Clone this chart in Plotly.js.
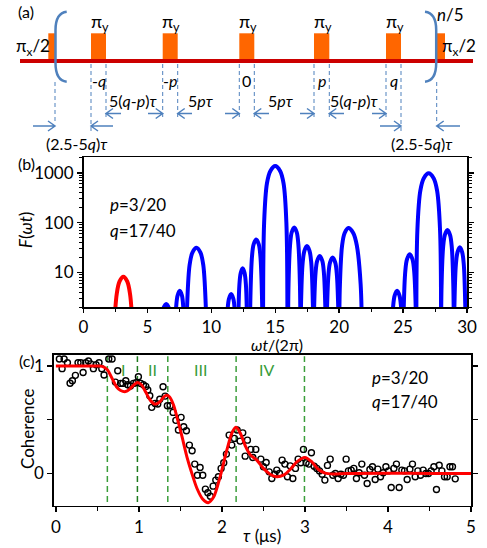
<!DOCTYPE html>
<html>
<head>
<meta charset="utf-8">
<script src="https://cdn.plot.ly/plotly-3.0.1.min.js"></script>
<style>html,body{margin:0;padding:0;background:#fff}#chart{width:487px;height:548px}</style>
</head>
<body>
<div id="chart"></div>
<script>
// ---------- Panel (b): filter function F(wt) (lobes separated by null) ----------
const bRedX = [2.36, 2.60, 2.82, 3.12, 3.42, 3.64, 3.88];
const bRedY = [0.5, 3.7, 6.6, 8.2, 6.6, 3.7, 0.5];
const bBlueX = [
  5.87, 6.06, 6.23, 6.47, 6.71, 6.88, 7.07, null,
  7.10, 7.24, 7.36, 7.53, 7.70, 7.81, 7.95, null,
  8.05, 8.11, 8.30, 8.52, 8.84, 9.15, 9.37, 9.56, 9.62, null,
  11.12, 11.26, 11.38, 11.55, 11.72, 11.84, 11.98, null,
  12.07, 12.10, 12.19, 12.30, 12.45, 12.60, 12.71, 12.80, 12.83, null,
  13.02, 13.06, 13.18, 13.31, 13.51, 13.71, 13.84, 13.96, 14.00, null,
  14.05, 14.13, 14.35, 14.62, 15.00, 15.38, 15.65, 15.87, 15.95, null,
  16.00, 16.04, 16.16, 16.29, 16.485, 16.68, 16.81, 16.93, 16.97, null,
  16.98, 17.02, 17.14, 17.28, 17.48, 17.68, 17.82, 17.94, 17.98, null,
  17.99, 18.15, 18.28, 18.48, 18.68, 18.81, 18.97, null,
  19.00, 19.16, 19.29, 19.49, 19.69, 19.82, 19.98, null,
  20.00, 20.06, 20.23, 20.43, 20.72, 21.10, 21.38, 21.68, 21.78, null,
  24.06, 24.21, 24.34, 24.53, 24.72, 24.85, 25.00, null,
  25.00, 25.17, 25.31, 25.52, 25.73, 25.87, 26.04, null,
  26.04, 26.12, 26.35, 26.62, 27.00, 27.39, 27.66, 27.89, 27.97, null,
  27.97, 28.01, 28.13, 28.27, 28.47, 28.67, 28.81, 28.93, 28.97, null,
  28.98, 29.02, 29.13, 29.26, 29.44, 29.62, 29.75, 29.86, 29.90
];
const bBlueY = [
  0.5, 1.05, 1.87, 2.34, 1.87, 1.05, 0.5, null,
  0.5, 1.94, 3.44, 4.3, 3.44, 1.94, 0.5, null,
  0.5, 2.3, 14.1, 25, 31.3, 25, 14.1, 2.3, 0.5, null,
  0.5, 1.67, 2.96, 3.7, 2.96, 1.67, 0.5, null,
  0.5, 0.9, 5.4, 9.7, 12.1, 9.7, 5.4, 0.9, 0.5, null,
  0.5, 3.4, 20.7, 36.8, 46, 36.8, 20.7, 3.4, 0.5, null,
  0.5, 100, 612, 1088, 1360, 1088, 612, 100, 0.5, null,
  0.5, 5.9, 36, 64, 80, 64, 36, 5.9, 0.5, null,
  0.5, 2.5, 15.3, 27.2, 34, 27.2, 15.3, 2.5, 0.5, null,
  0.5, 9.6, 17.1, 21.4, 17.1, 9.6, 0.5, null,
  0.5, 9, 16, 20, 16, 9, 0.5, null,
  0.5, 5.8, 35, 62, 78, 62, 35, 5.8, 0.5, null,
  0.5, 1.94, 3.44, 4.3, 3.44, 1.94, 0.5, null,
  0.5, 10.4, 18.5, 23.1, 18.5, 10.4, 0.5, null,
  0.5, 72, 438, 778, 973, 778, 438, 72, 0.5, null,
  0.5, 5.3, 32, 57, 71, 57, 32, 5.3, 0.5, null,
  0.5, 2.4, 14.4, 25.6, 32, 25.6, 14.4, 2.4, 0.5
];
const bTickVals = [10, 100, 1000];
const bTickText = ['10', '100', '1000'];

// ---------- Panel (c): coherence data and fit ----------
const cTau = [0.042,0.075,0.099,0.139,0.171,0.199,0.235,0.267,0.300,0.328,
  0.360,0.392,0.420,0.452,0.484,0.520,0.553,0.580,0.637,0.677,
  0.717,0.745,0.780,0.806,0.842,0.866,0.898,0.934,0.966,0.994,
  1.023,1.054,1.083,1.107,1.131,1.155,1.195,1.227,1.252,1.291,
  1.316,1.343,1.376,1.412,1.445,1.476,1.508,1.540,1.572,1.608,
  1.641,1.673,1.705,1.737,1.769,1.801,1.830,1.861,1.894,1.926,
  1.958,1.990,2.022,2.054,2.087,2.119,2.150,2.183,2.219,2.251,
  2.280,2.307,2.348,2.372,2.408,2.469,2.500,2.533,2.569,2.601,
  2.637,2.661,2.693,2.725,2.758,2.789,2.822,2.854,2.886,2.918,
  2.950,2.982,3.014,3.047,3.078,3.111,3.143,3.175,3.207,3.240,
  3.271,3.304,3.336,3.367,3.400,3.433,3.464,3.496,3.524,3.557,
  3.589,3.620,3.653,3.685,3.717,3.749,3.782,3.813,3.846,3.878,
  3.910,3.942,3.975,4.006,4.039,4.071,4.102,4.135,4.167,4.199,
  4.231,4.264,4.295,4.328,4.360,4.392,4.424,4.457,4.488,4.520,
  4.553,4.584,4.617,4.649,4.681,4.713,4.746,4.777,4.810];
const cCoh = [1.065,0.975,1.065,1.03,0.84,0.863,0.913,1.03,1.03,0.94,
  1.03,1.047,1.02,0.975,1.012,1.03,0.975,0.916,1.065,1.065,
  0.85,0.956,0.838,0.838,0.863,0.826,0.814,0.838,0.844,0.9,
  0.838,0.826,0.81,0.776,0.723,0.615,0.652,0.646,0.69,0.807,
  0.72,0.63,0.63,0.568,0.494,0.404,0.522,0.435,0.397,0.264,
  0.211,0.087,-0.016,0.056,-0.016,-0.146,-0.18,-0.212,-0.118,-0.062,
  -0.031,0.047,0.099,0.18,0.357,0.264,0.326,0.404,0.301,0.378,
  0.161,0.31,0.224,0.149,0.224,0.133,0.062,0.102,0.015,-0.047,
  -0.007,0.031,0,0.124,0.087,-0.031,0.071,-0.047,0.047,0.133,
  0.099,0.224,0.099,0.087,0.192,0.068,0.047,0.024,-0.007,-0.062,
  0.075,0.133,-0.016,0,-0.047,-0.007,-0.016,0.133,0.024,0.031,
  0.047,-0.047,0.006,0.087,-0.016,-0.093,0.037,0.062,-0.056,0.04,
  -0.031,0.006,0.062,0.024,-0.13,0.047,0.087,-0.13,0.031,0.024,
  -0.056,0.04,0.087,-0.031,0.024,-0.016,0.031,0,0,0.024,
  0.062,-0.149,0.077,0.024,-0.031,-0.031,0.062,0.062,-0.05];
const fitTau = [0, 0.5, 0.56, 0.62, 0.68, 0.73, 0.78, 0.84, 0.89, 0.94, 0.982, 1.03, 1.08, 1.135, 1.19, 1.25, 1.30, 1.335, 1.37, 1.416, 1.46, 1.52, 1.58, 1.63, 1.70, 1.77, 1.835, 1.90, 1.978, 2.059, 2.127, 2.171, 2.219, 2.28, 2.34, 2.42, 2.50, 2.58, 2.661, 2.741, 2.822, 2.902, 3.0, 3.083, 3.163, 3.243, 3.34, 3.5, 4.0, 4.5, 5.0];
const fitCoh = [1.0, 1.0, 0.997, 0.965, 0.88, 0.807, 0.772, 0.762, 0.785, 0.825, 0.847, 0.825, 0.76, 0.683, 0.645, 0.665, 0.712, 0.727, 0.712, 0.64, 0.52, 0.34, 0.15, 0.02, -0.14, -0.24, -0.272, -0.22, -0.031, 0.217, 0.388, 0.429, 0.378, 0.26, 0.175, 0.124, 0.047, -0.007, -0.031, -0.016, 0.037, 0.108, 0.149, 0.108, 0.037, 0.003, -0.005, 0.0, 0.002, 0.0, 0.0];
const regionLines = [0.62, 0.982, 1.348, 2.171, 2.994];
const regionLabels = ['I', 'II', 'III', 'IV'];
const regionLabelTau = [0.81, 1.167, 1.737, 2.54];
const cTickVals = [0, 0.5, 1];
const cTickText = ['0', ' ', '1'];

// ---------- Panel (a): pulse sequence labels ----------
const pulseLabels = ['-<i>q</i>', '-<i>p</i>', '0', '<i>p</i>', '<i>q</i>'];
const gapLabels = ['5(<i>q</i>-<i>p</i>)<i>τ</i>', '5<i>pτ</i>', '5<i>pτ</i>', '5(<i>q</i>-<i>p</i>)<i>τ</i>'];
const edgeLabel = '(2.5-5<i>q</i>)<i>τ</i>';

// ---------- layout helpers (pixel -> paper) ----------
const W = 487, H = 548;
const X = p => p / W;
const Y = p => 1 - p / H;
const FONT = 'Lato, "Noto Sans", "DejaVu Sans", sans-serif';
const BLUE = '#4f81bd';
const GREEN = '#3a9d3a';

const shapes = [];
const annotations = [];
function txt(text, px, py, size, opts) {
  annotations.push(Object.assign({
    text: text, x: X(px), y: Y(py), xref: 'paper', yref: 'paper',
    showarrow: false, xanchor: 'center', yanchor: 'middle',
    font: {family: FONT, size: size, color: '#000'}
  }, opts || {}));
}

// pulses
const pulseEdges = [[91, 106], [162.7, 177.7], [239.3, 254.3], [314, 329.3], [386, 401]];
const halfPulses = [[48.3, 56], [436.7, 445]];
halfPulses.concat(pulseEdges).forEach(e => shapes.push({
  type: 'rect', xref: 'paper', yref: 'paper', x0: X(e[0]), x1: X(e[1]), y0: Y(60), y1: Y(33.3),
  fillcolor: '#ff6600', line: {width: 0}
}));
shapes.push({type: 'line', xref: 'paper', yref: 'paper', x0: X(20), x1: X(473), y0: Y(61), y1: Y(61),
  line: {color: '#cc0000', width: 4}});
// brackets
shapes.push({type: 'path', xref: 'paper', yref: 'paper',
  path: `M ${X(66.7)},${Y(11.7)} Q ${X(55.5)},${Y(13)} ${X(55.5)},${Y(30)} L ${X(55.5)},${Y(63)} Q ${X(55.5)},${Y(80.5)} ${X(66.7)},${Y(81.7)}`,
  line: {color: BLUE, width: 2.5}});
shapes.push({type: 'path', xref: 'paper', yref: 'paper',
  path: `M ${X(425)},${Y(11.7)} Q ${X(436.2)},${Y(13)} ${X(436.2)},${Y(30)} L ${X(436.2)},${Y(63)} Q ${X(436.2)},${Y(80.5)} ${X(425)},${Y(81.7)}`,
  line: {color: BLUE, width: 2.5}});
// dashed guides
const guides = [[55, 82, 124], [91, 64, 131], [106, 64, 118], [162.7, 64, 118], [177.7, 64, 118],
  [239.3, 64, 118], [254.3, 64, 118], [314, 64, 118], [329.3, 64, 118], [386, 64, 118], [401, 64, 131], [436.7, 82, 124]];
guides.forEach(g => shapes.push({type: 'line', xref: 'paper', yref: 'paper', x0: X(g[0]), x1: X(g[0]),
  y0: Y(g[1]), y1: Y(g[2]), line: {color: BLUE, width: 1, dash: '4px,3px'}}));
// arrows
function arrow(tip, tail, py) {
  const d = tail > tip ? 1 : -1;
  shapes.push({type: 'path', xref: 'paper', yref: 'paper',
    path: `M ${X(tail)},${Y(py)} L ${X(tip)},${Y(py)} M ${X(tip + d * 7)},${Y(py - 5)} L ${X(tip)},${Y(py)} L ${X(tip + d * 7)},${Y(py + 5)}`,
    line: {color: BLUE, width: 1.5}});
}
[[106, 121], [162.7, 148], [177.7, 192], [239.3, 225], [254.3, 269], [314, 300], [329.3, 344], [386, 372]]
  .forEach(a => arrow(a[0], a[1], 113.5));
[[55, 33], [91, 113], [401, 380], [436.7, 460]].forEach(a => arrow(a[0], a[1], 126));

// panel (a) text
pulseEdges.forEach(e => txt('π<sub>y</sub>', (e[0] + e[1]) / 2 + 1, 23, 18));
pulseEdges.forEach((e, i) => txt(pulseLabels[i], (e[0] + e[1]) / 2, 80, 16));
txt('π<sub>x</sub>/2', 32.5, 47, 17);
txt('π<sub>x</sub>/2', 459, 47, 17);
txt('<i>n</i>/5', 450, 15, 17);
txt('(a)', 26, 11, 16);
[133, 201, 281, 354].forEach((cx, i) => txt(gapLabels[i], cx, 100, 16));
txt(edgeLabel, 76.7, 143, 16);
txt(edgeLabel, 421.7, 143, 16);

// panel labels and titles
txt('(b)', 26, 164, 16);
txt('(c)', 26, 360, 16);
txt('<i>F</i>(<i>ωt</i>)', 25, 230, 17, {textangle: -90});
txt('<i>ωt</i>/(2π)', 277, 344.5, 16);
txt('Coherence', 27, 429, 17, {textangle: -90});
txt('<i>τ</i> (μs)', 262, 535, 17);
txt('<i>p</i>=3/20', 108, 205, 17, {xanchor: 'left'});
txt('<i>q</i>=17/40', 108, 230, 17, {xanchor: 'left'});
txt('<i>p</i>=3/20', 370, 377, 17, {xanchor: 'left'});
txt('<i>q</i>=17/40', 370, 401, 17, {xanchor: 'left'});

// region lines / labels in (c)
regionLines.forEach((t, i) => shapes.push({type: 'line', xref: 'x2', yref: 'y2', x0: t, x1: t, y0: -0.265, y1: 1.09,
  layer: 'below', line: {color: i === 1 ? '#1e7a1e' : GREEN, width: 1.5, dash: '6px,4px'}}));
regionLabels.forEach((s, i) => annotations.push({text: s, x: regionLabelTau[i], y: 0.97, xref: 'x2', yref: 'y2',
  showarrow: false, font: {family: FONT, size: 16, color: GREEN}}));

const traces = [
  {x: bRedX, y: bRedY, xaxis: 'x', yaxis: 'y', mode: 'lines', line: {color: '#ff0000', width: 4, shape: 'spline'}, hoverinfo: 'skip'},
  {x: bBlueX, y: bBlueY, xaxis: 'x', yaxis: 'y', mode: 'lines', connectgaps: false, line: {color: '#0000ff', width: 4, shape: 'spline'}, hoverinfo: 'skip'},
  {x: cTau, y: cCoh, xaxis: 'x2', yaxis: 'y2', mode: 'markers', marker: {symbol: 'circle-open', size: 6, color: '#000', line: {width: 1.4, color: '#000'}}},
  {x: fitTau, y: fitCoh, xaxis: 'x2', yaxis: 'y2', mode: 'lines', line: {color: '#ff0000', width: 3, shape: 'spline', smoothing: 0.8}}
];

const axBase = {showgrid: false, zeroline: false, showline: true, linecolor: '#000', linewidth: 1.5,
  ticks: 'outside', ticklen: 5, tickwidth: 1.5, tickcolor: '#000',
  tickfont: {family: FONT, size: 17, color: '#000'}};

const layout = {
  width: W, height: H, margin: {l: 0, r: 0, t: 0, b: 0},
  paper_bgcolor: '#fff', plot_bgcolor: 'rgba(0,0,0,0)', showlegend: false,
  xaxis: Object.assign({}, axBase, {domain: [83.5 / W, 467 / W], anchor: 'y', range: [0, 30], dtick: 5, tick0: 0,
    ticklen: 4, mirror: true, minor: {dtick: 2.5, ticks: 'outside', ticklen: 3, tickwidth: 1, tickcolor: '#000'}}),
  yaxis: Object.assign({}, axBase, {domain: [Y(307.3), Y(157.3)], anchor: 'x', type: 'log', range: [0.301, 3.31],
    tickvals: bTickVals, ticktext: bTickText, mirror: 'ticks',
    minor: {dtick: 'D1', ticks: 'outside', ticklen: 3, tickwidth: 1, tickcolor: '#000'}}),
  xaxis2: Object.assign({}, axBase, {domain: [53.8 / W, 471 / W], anchor: 'y2', range: [-0.025, 5.0], dtick: 1, tick0: 0,
    mirror: true, minor: {dtick: 0.5, ticks: 'outside', ticklen: 4, tickwidth: 1, tickcolor: '#000'}}),
  yaxis2: Object.assign({}, axBase, {domain: [Y(505.7), Y(354.7)], anchor: 'x2', range: [-0.30, 1.105],
    tickvals: cTickVals, ticktext: cTickText, mirror: 'ticks'}),
  shapes: shapes,
  annotations: annotations
};

Plotly.newPlot('chart', traces, layout, {staticPlot: true, displayModeBar: false});
</script>
</body>
</html>
